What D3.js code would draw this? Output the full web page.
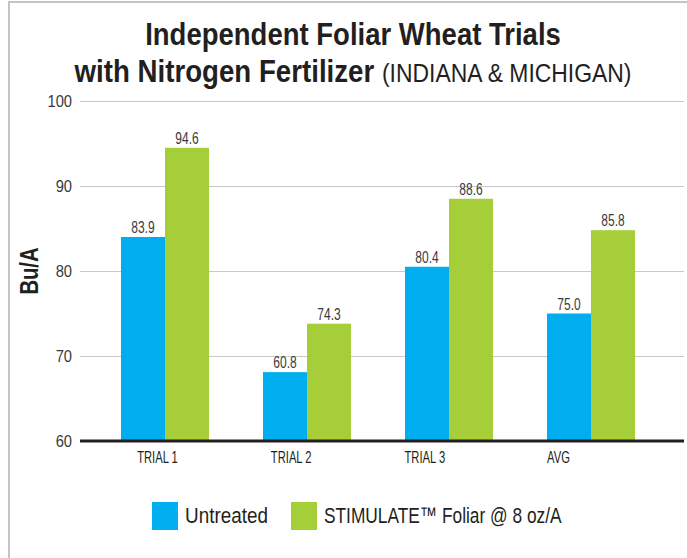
<!DOCTYPE html>
<html>
<head>
<meta charset="utf-8">
<script src="https://cdn.jsdelivr.net/npm/d3@7"></script>
<style>
  html, body { margin: 0; padding: 0; background: #fff; }
  svg { display: block; }
  text { font-family: "Liberation Sans", Arial, sans-serif; }
</style>
</head>
<body>
<script>
// data
const categories = ["TRIAL 1", "TRIAL 2", "TRIAL 3", "AVG"];
const seriesNames = ["Untreated", "STIMULATE\u2122 Foliar @ 8 oz/A"];
const untreatedVals = [84.0, 68.1, 80.5, 75.0];
const stimulateVals = [94.5, 73.8, 88.5, 84.8];
const untreatedLabels = ["83.9", "60.8", "80.4", "75.0"];
const stimulateLabels = ["94.6", "74.3", "88.6", "85.8"];
const yTicks = [60, 70, 80, 90, 100];

const colors = ["#00aeef", "#a6ce39"];
const width = 687, height = 558;

// no condensed face installed, so squeeze text horizontally instead
function squeeze(sel, sx) {
  sel.each(function(d, i) {
    const t = d3.select(this);
    const x = +t.attr("x") || 0, y = +t.attr("y") || 0;
    const s = typeof sx === "function" ? sx(d, i) : sx;
    t.attr("x", null).attr("y", null)
      .attr("transform", "translate(" + x + "," + y + ") scale(" + s + ",1)");
  });
}

const svg = d3.select("body").append("svg")
  .attr("width", width)
  .attr("height", height);

// outer frame
svg.append("rect")
  .attr("x", 9).attr("y", 2)
  .attr("width", 700).attr("height", 600)
  .attr("fill", "none")
  .attr("stroke", "#c4c4c4")
  .attr("stroke-width", 2);

// title
svg.append("text")
  .attr("x", 353).attr("y", 45)
  .attr("text-anchor", "middle")
  .attr("fill", "#231f20")
  .attr("font-size", 32).attr("font-weight", "bold")
  .text("Independent Foliar Wheat Trials")
  .call(squeeze, 0.86);
const line2 = svg.append("text")
  .attr("x", 353).attr("y", 82)
  .attr("text-anchor", "middle")
  .attr("fill", "#231f20");
line2.append("tspan")
  .attr("font-size", 32).attr("font-weight", "bold")
  .text("with Nitrogen Fertilizer ");
line2.append("tspan")
  .attr("font-size", 26.5)
  .text("(INDIANA & MICHIGAN)");
squeeze(line2, 0.865);

// scales
const y = d3.scaleLinear().domain([60, 100]).range([441, 101]);
const x0 = d3.scaleBand().domain(categories)
  .range([94, 662])
  .paddingInner(0.38)
  .paddingOuter(0.19);
const x1 = d3.scaleBand().domain([0, 1]).range([0, x0.bandwidth()]);
// category labels sit slightly left of their bar groups in the original
const xLabel = d3.scalePoint().domain(categories).range([157, 558]);

// gridlines
svg.append("g")
  .attr("transform", "translate(80,0)")
  .call(d3.axisLeft(y).tickValues(yTicks).tickSize(-604).tickFormat(""))
  .call(g => g.select(".domain").remove())
  .call(g => g.selectAll(".tick line").attr("stroke", "#c8c8c8").attr("stroke-width", 1.2));

// y tick labels
svg.append("g")
  .attr("transform", "translate(80,0)")
  .call(d3.axisLeft(y).tickValues(yTicks).tickSize(0).tickPadding(8))
  .call(g => g.select(".domain").remove())
  .call(g => g.selectAll(".tick text")
    .attr("font-size", 16)
    .attr("fill", "#3a3a3a")
    .style("font-family", null)
    .call(squeeze, 0.92));

// y axis title
svg.append("text")
  .attr("transform", "translate(38,271) rotate(-90) scale(0.81,1)")
  .attr("text-anchor", "middle")
  .attr("font-size", 25)
  .attr("font-weight", "bold")
  .attr("fill", "#231f20")
  .text("Bu/A");

// bars
const rows = categories.map((c, i) => ({
  cat: c,
  vals: [untreatedVals[i], stimulateVals[i]],
  labels: [untreatedLabels[i], stimulateLabels[i]]
}));

const groups = svg.selectAll("g.grp")
  .data(rows)
  .join("g")
  .attr("class", "grp")
  .attr("transform", d => "translate(" + x0(d.cat) + ",0)");

groups.selectAll("rect")
  .data(d => d.vals.map((v, k) => ({ v: v, k: k })))
  .join("rect")
  .attr("x", d => x1(d.k))
  .attr("y", d => y(d.v))
  .attr("width", x1.bandwidth())
  .attr("height", d => y(60) - y(d.v))
  .attr("fill", d => colors[d.k]);

groups.selectAll("text")
  .data(d => d.vals.map((v, k) => ({ v: v, k: k, label: d.labels[k] })))
  .join("text")
  .attr("x", d => x1(d.k) + x1.bandwidth() / 2)
  .attr("y", d => y(d.v) - 4)
  .attr("text-anchor", "middle")
  .attr("font-size", 16)
  .attr("fill", "#3a3a3a")
  .text(d => d.label)
  .call(squeeze, 0.75);

// baseline
svg.append("line")
  .attr("x1", 80).attr("x2", 684)
  .attr("y1", y(60)).attr("y2", y(60))
  .attr("stroke", "#231f20")
  .attr("stroke-width", 3);

// category labels
svg.append("g")
  .attr("transform", "translate(0,442)")
  .call(d3.axisBottom(xLabel).tickSize(0).tickPadding(10))
  .call(g => g.select(".domain").remove())
  .call(g => g.selectAll(".tick text")
    .attr("font-size", 16)
    .attr("fill", "#231f20")
    .style("font-family", null)
    .call(squeeze, 0.7));

// legend
const legendX = [152, 291];
const legendSqueeze = [0.84, 0.77];
const legend = svg.selectAll("g.leg")
  .data(seriesNames)
  .join("g")
  .attr("class", "leg")
  .attr("transform", (d, i) => "translate(" + legendX[i] + ",502)");
legend.append("rect")
  .attr("width", 26).attr("height", 28)
  .attr("fill", (d, i) => colors[i]);
legend.append("text")
  .attr("x", 33).attr("y", 21)
  .attr("font-size", 22.5)
  .attr("fill", "#231f20")
  .text(d => d)
  .call(squeeze, (d, i) => legendSqueeze[i]);
</script>
</body>
</html>
